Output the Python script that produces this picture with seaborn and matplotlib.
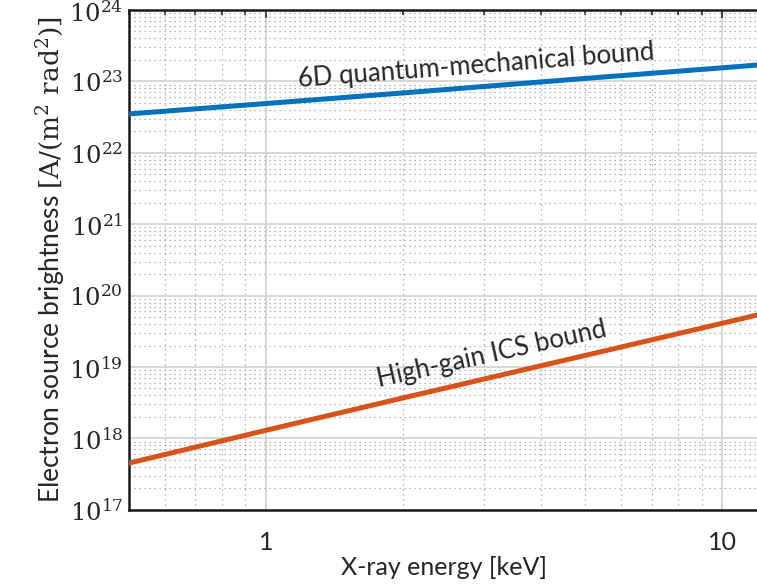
import matplotlib
matplotlib.use('Agg')
import matplotlib.pyplot as plt
import matplotlib.ticker as mticker
import numpy as np
import pandas as pd
import seaborn as sns

# values (log-log, straight lines)
energy_kev = [0.5, 1, 2, 5, 10, 12]
qm_bound = [3.5e22, 4.9e22, 6.9e22, 1.1e23, 1.55e23, 1.7e23]
ics_bound = [4.5e17, 1.3e18, 3.7e18, 1.45e19, 4.1e19, 5.4e19]

qm_label = '6D quantum-mechanical bound'
ics_label = 'High-gain ICS bound'

sns.set_theme(style='white')
plt.rcParams['font.family'] = ['Lato', 'DejaVu Sans']
plt.rcParams['mathtext.fontset'] = 'dejavuserif'

df = pd.DataFrame({
    'energy': energy_kev * 2,
    'brightness': qm_bound + ics_bound,
    'bound': [qm_label] * len(energy_kev) + [ics_label] * len(energy_kev),
})

fig = plt.figure(figsize=(7.57, 5.88), dpi=100)
ax = fig.add_axes([0.170, 0.133, 0.832, 0.850])

sns.lineplot(data=df, x='energy', y='brightness', hue='bound',
             palette={qm_label: '#0072BD', ics_label: '#D95319'},
             linewidth=3.6, legend=False, ax=ax, zorder=3)

ax.set_xscale('log')
ax.set_yscale('log')
ax.set_xlim(0.5, 12)
ax.set_ylim(1e17, 1e24)

ax.xaxis.set_major_locator(mticker.FixedLocator([1, 10]))
ax.xaxis.set_major_formatter(mticker.FixedFormatter(['1', '10']))
ax.xaxis.set_minor_locator(mticker.LogLocator(base=10, subs=np.arange(2, 10), numticks=20))
ax.xaxis.set_minor_formatter(mticker.NullFormatter())
ax.yaxis.set_major_locator(mticker.LogLocator(base=10, numticks=20))
ax.yaxis.set_major_formatter(mticker.FuncFormatter(lambda v, p: r'$10^{%d}$' % round(np.log10(v))))
ax.yaxis.set_minor_locator(mticker.LogLocator(base=10, subs=np.arange(2, 10), numticks=20))
ax.yaxis.set_minor_formatter(mticker.NullFormatter())

ax.grid(True, which='major', color='#d4d4d4', linewidth=1.3, linestyle='-')
ax.grid(True, which='minor', color='#a0a0a0', linewidth=0.9, linestyle=(0, (1, 3)))

ax.tick_params(axis='both', which='both', direction='in', top=True, right=False,
               width=1.2, color='#262626')
ax.tick_params(axis='both', which='major', length=6)
ax.tick_params(axis='both', which='minor', length=3.5)
ax.tick_params(axis='x', labelsize=18, pad=15)
ax.tick_params(axis='y', labelsize=17.5, pad=4)

for side in ['left', 'bottom', 'top']:
    ax.spines[side].set_color('#1a1a1a')
    ax.spines[side].set_linewidth(1.8)
ax.spines['right'].set_visible(False)

ax.set_xlabel('X-ray energy [keV]', fontsize=18, labelpad=2)
ax.set_ylabel(r'Electron source brightness $[\mathrm{A/(m^2\ rad^2)}]$', fontsize=19, labelpad=1)

ax.text(2.89, 1.67e23, qm_label, fontsize=18.5, rotation=4.4,
        ha='center', va='center', rotation_mode='anchor', zorder=4)
ax.text(3.13, 1.52e19, ics_label, fontsize=18.5, rotation=12.5,
        ha='center', va='center', rotation_mode='anchor', zorder=4)

fig.savefig('out.png', dpi=100)
